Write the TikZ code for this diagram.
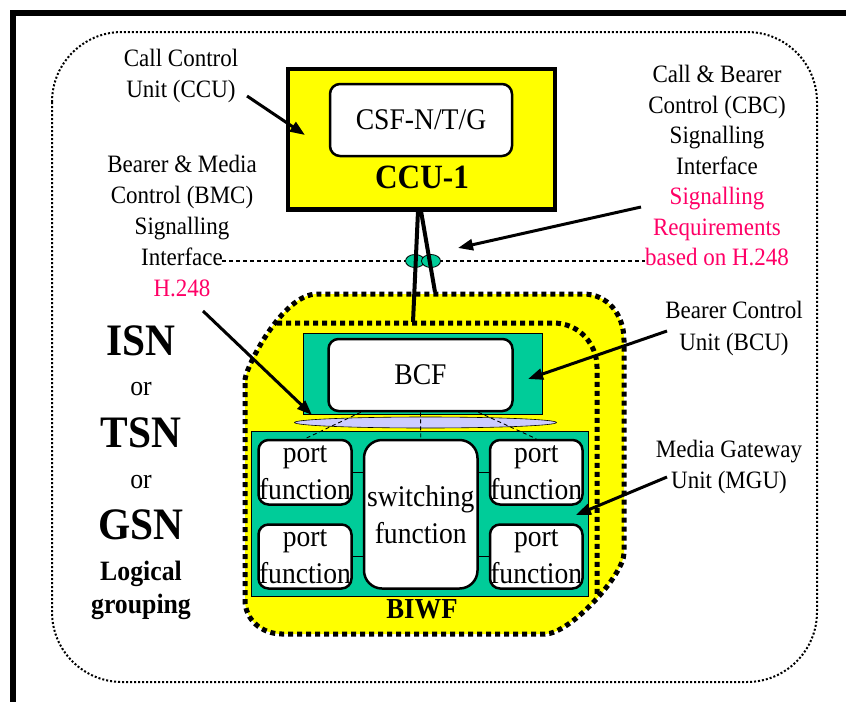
\documentclass[tikz,border=0pt]{standalone}
\usepackage{fontspec}
\setmainfont{Liberation Serif}[FakeStretch=0.92]
\usetikzlibrary{arrows.meta,calc,shapes.geometric}

\definecolor{hiyellow}{RGB}{255,255,0}
\definecolor{unitgreen}{RGB}{0,204,153}
\definecolor{buslav}{RGB}{204,204,255}
\definecolor{sigred}{RGB}{255,0,102}

\tikzset{
  lbl/.style={font=\fontsize{25}{31}\selectfont, align=center, inner sep=0pt, anchor=north},
  callout/.style={line width=3pt, -{Triangle[length=15pt,width=11pt]}},
  finedots/.style={line width=2pt, dash pattern=on 2pt off 2pt},
  heavydots/.style={line width=5pt, dash pattern=on 5pt off 4pt},
  fnbox/.style={draw, fill=white, line width=2.5pt, rounded corners=10pt, inner sep=0pt,
                align=center, font=\fontsize{30}{37}\selectfont},
  unitbox/.style={draw, line width=0.8pt, fill=unitgreen, inner sep=0pt},
  cable/.style={line width=4pt},
  sigdash/.style={line width=1.3pt, dash pattern=on 4pt off 3pt},
  fandash/.style={line width=0.9pt, dash pattern=on 4pt off 3pt},
  pipe/.style={ellipse, draw, line width=0.8pt, fill=unitgreen, minimum width=19pt,
               minimum height=13pt, inner sep=0pt},
  bigname/.style={anchor=base, inner sep=0pt, font=\fontsize{45}{45}\selectfont\bfseries},
  ortext/.style={anchor=base, inner sep=0pt, font=\fontsize{28}{28}\selectfont},
  grouptext/.style={anchor=base, inner sep=0pt, font=\fontsize{28}{28}\selectfont\bfseries},
}

\begin{document}
\begin{tikzpicture}[x=1pt,y=-1pt]
\useasboundingbox (0,0) rectangle (846,702);

% page frame
\fill (10,10) rectangle (846,16);
\fill (10,10) rectangle (16,702);

% logical grouping boundary
\draw[finedots, rounded corners=70pt] (52,32) rectangle (817,682);

% ISN / TSN / GSN area (yellow)
\draw[heavydots, fill=hiyellow]
  (245,380) .. controls (245,369) and (282,294) .. (317,294)
  -- (583,294) .. controls (608,294) and (624,315) .. (624,340)
  -- (624,553) .. controls (624,575) and (570,634) .. (545,634)
  -- (282,634) .. controls (262,634) and (245,620) .. (245,600) -- cycle;
\draw[heavydots] (277,323) -- (553,323) .. controls (580,323) and (597,345) .. (597,367)
  -- (597,597);

% text labels
\node[lbl] (ccuLbl) at (181,49) {Call Control\\Unit (CCU)};
\node[lbl] (bmcLbl) at (182,155) {Bearer \& Media\\Control (BMC)\\Signalling\\Interface\\\textcolor{sigred}{H.248}};
\node[lbl, font=\fontsize{25}{30.5}\selectfont] (cbcLbl) at (717,65)
  {Call \& Bearer\\Control (CBC)\\Signalling\\Interface\\\textcolor{sigred}{Signalling}\\\textcolor{sigred}{Requirements}\\\textcolor{sigred}{based on H.248}};
\node[lbl, font=\fontsize{25}{32}\selectfont] (bcuLbl) at (734,301) {Bearer Control\\Unit (BCU)};
\node[lbl] (mguLbl) at (729,440) {Media Gateway\\Unit (MGU)};

\node[bigname] (isn) at (141,355) {ISN};
\node[ortext] (or1) at (141,395) {or};
\node[bigname] (tsn) at (141,447) {TSN};
\node[ortext] (or2) at (141,488) {or};
\node[bigname] (gsn) at (141,539) {GSN};
\node[grouptext] (logical) at (141,580) {Logical};
\node[grouptext] (grouping) at (141,613) {grouping};

% call control unit
\node[draw, line width=4.5pt, fill=hiyellow, minimum width=267pt, minimum height=140.5pt,
      inner sep=0pt] (ccu) at (421.5,139.25) {};
\node[fnbox, minimum width=182pt, minimum height=72pt] (csf) at (421,120) {CSF-N/T/G};
\node[anchor=base, inner sep=0pt, font=\fontsize{34}{34}\selectfont\bfseries] (ccuName)
  at (422,188) {CCU-1};

% signalling interface line and its two pipes
\coordinate (sigL) at (222,261);
\coordinate (sigR) at (645,261);
\draw[sigdash] (sigL) -- (sigR);
\node[pipe] (pipeA) at (415,261) {};
\node[pipe] (pipeB) at (431,261) {};

\coordinate (cabA0) at (418,211);
\coordinate (cabA1) at (413,322);
\coordinate (cabB0) at (421,211);
\coordinate (cabB1) at (435,292);
\draw[cable] (cabA0) -- (cabA1);
\draw[cable] (cabB0) -- (cabB1);

% bearer control unit
\node[unitbox, minimum width=239pt, minimum height=81pt] (bcu) at (422.5,373.5) {};
\node[fnbox, minimum width=184pt, minimum height=72pt] (bcf) at (420.5,375) {BCF};

% internal bus
\node[ellipse, draw, fill=buslav, line width=0.6pt, minimum width=262pt, minimum height=11pt,
      inner sep=0pt] (bus) at (425.5,422.5) {};

% media gateway unit
\node[unitbox, minimum width=337pt, minimum height=165pt] (mgu) at (419.5,513.5) {};
\node[fnbox, minimum width=93pt, minimum height=64.5pt] (pTL) at (305,472.25) {port\\function};
\node[fnbox, minimum width=93pt, minimum height=64pt] (pBL) at (305,556.5) {port\\function};
\node[fnbox, minimum width=92.5pt, minimum height=64.5pt] (pTR) at (536.25,472.25) {port\\function};
\node[fnbox, minimum width=92.5pt, minimum height=64pt] (pBR) at (536.25,556.5) {port\\function};
\node[fnbox, rounded corners=18pt, minimum width=113.5pt, minimum height=148.5pt] (sw)
  at (420.75,514.25) {switching\\function};

\draw[line width=1.5pt] (pTL.east) -- (pTL.east -| sw.west);
\draw[line width=1.5pt] (pBL.east) -- (pBL.east -| sw.west);
\draw[line width=1.5pt] (pTR.west) -- (pTR.west -| sw.east);
\draw[line width=1.5pt] (pBR.west) -- (pBR.west -| sw.east);

\draw[fandash] ($(bcf.south west)!0.18!(bcf.south east)$) -- (pTL.north);
\draw[fandash] (bcf.south) -- (sw.north);
\draw[fandash] ($(bcf.south west)!0.81!(bcf.south east)$) -- (pTR.north);

\node[anchor=base, inner sep=0pt, font=\fontsize{29}{29}\selectfont\bfseries] (biwf)
  at (422,618) {BIWF};

% callout arrows
\coordinate (ccuTail) at (247,96);   \coordinate (ccuTip) at (305,135);
\coordinate (cbcTail) at (641,207);  \coordinate (cbcTip) at (458,248);
\coordinate (bmcTail) at (203,311);  \coordinate (bmcTip) at (312,415);
\coordinate (bcuTail) at (667,331);  \coordinate (bcuTip) at (528,379);
\coordinate (mguTail) at (667,477);  \coordinate (mguTip) at (576,515);
\draw[callout] (ccuTail) -- (ccuTip);
\draw[callout] (cbcTail) -- (cbcTip);
\draw[callout] (bmcTail) -- (bmcTip);
\draw[callout] (bcuTail) -- (bcuTip);
\draw[callout] (mguTail) -- (mguTip);
\end{tikzpicture}
\end{document}
